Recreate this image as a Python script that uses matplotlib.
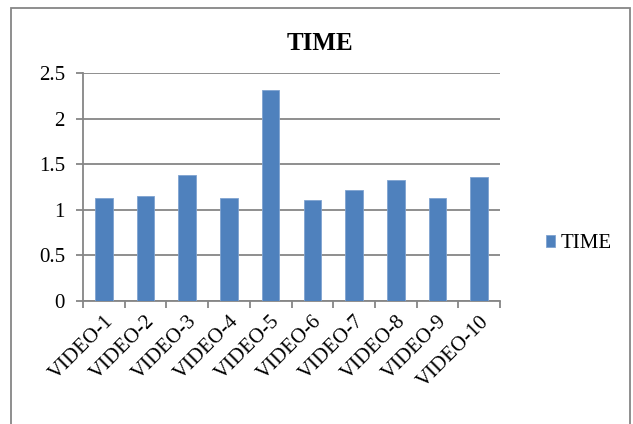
import matplotlib.pyplot as plt
import numpy as np
from matplotlib.patches import Rectangle

plt.rcParams['font.family'] = ['Liberation Serif', 'DejaVu Serif']
plt.rcParams['font.size'] = 15

videos = ['VIDEO-1', 'VIDEO-2', 'VIDEO-3', 'VIDEO-4', 'VIDEO-5',
          'VIDEO-6', 'VIDEO-7', 'VIDEO-8', 'VIDEO-9', 'VIDEO-10']
times = [1.125, 1.154, 1.378, 1.132, 2.315, 1.107, 1.213, 1.323, 1.125, 1.356]

W, H = 633, 424
fig = plt.figure(figsize=(W / 100, H / 100), dpi=100)

# outer chart frame
fig.patches.append(Rectangle((11 / W, -0.05), 619 / W, 1.05 - 8 / H,
                             transform=fig.transFigure, fill=False,
                             edgecolor='#868686', linewidth=1.3))

ax = fig.add_axes([83 / W, 1 - 301 / H, 417 / W, 228 / H])
x = np.arange(len(videos))
ax.bar(x, times, width=0.42, color='#4F81BD', edgecolor='#7FA3D0',
       linewidth=0.6, label='TIME', zorder=3)

ax.set_xlim(-0.5, len(videos) - 0.5)
ax.set_ylim(0, 2.5)
ax.set_yticks(np.arange(0, 2.51, 0.5))
ax.set_yticklabels(['0', '0.5', '1', '1.5', '2', '2.5'])
ax.yaxis.grid(True, color='#868686', linewidth=1.3, zorder=0)

ax.set_xticks(x)
ax.set_xticklabels(videos, rotation=45, ha='right', rotation_mode='anchor')
ax.set_xticks(np.arange(-0.5, len(videos)), minor=True)
ax.tick_params(axis='x', which='major', length=0, pad=8)
ax.tick_params(axis='x', which='minor', length=5, width=1.3, color='#868686',
               direction='out')
ax.tick_params(axis='y', length=5, width=1.3, color='#868686', pad=8)

for side in ['top', 'right']:
    ax.spines[side].set_visible(False)
for side in ['left', 'bottom']:
    ax.spines[side].set_color('#868686')
    ax.spines[side].set_linewidth(1.3)

fig.text(320 / W, 1 - 44 / H, 'TIME', ha='center', va='center',
         fontsize=18, fontweight='bold')

ax.legend(loc='center left', bbox_to_anchor=(527 / W, 1 - 244 / H),
          bbox_transform=fig.transFigure, frameon=False, handlelength=0.45,
          handleheight=0.45, handletextpad=0.25, fontsize=15)

fig.savefig('out.png', dpi=100)
